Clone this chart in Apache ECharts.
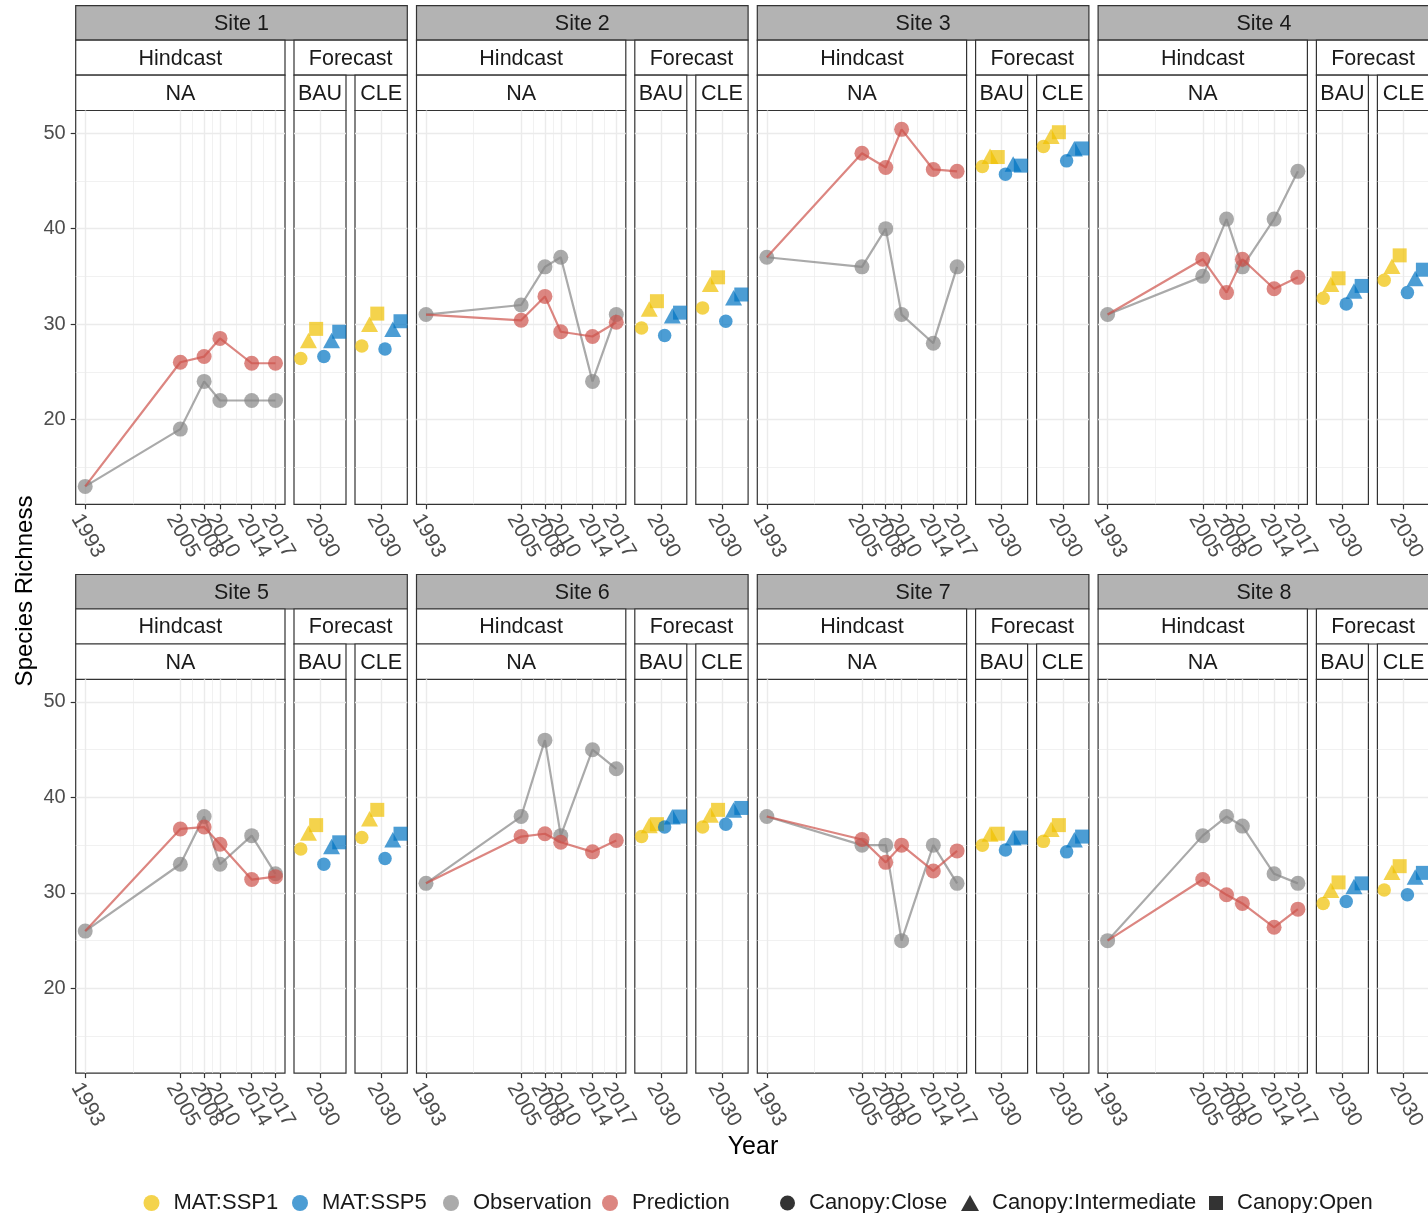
<!DOCTYPE html>
<html><head><meta charset="utf-8">
<script src="https://cdn.jsdelivr.net/npm/echarts@6/dist/echarts.min.js"></script>
<style>html,body{margin:0;padding:0;background:#fff}#c{width:1428px;height:1213px}</style>
</head><body><div id="c"></div>
<script>
// ---------------- data ----------------
const sites = ['Site 1','Site 2','Site 3','Site 4','Site 5','Site 6','Site 7','Site 8'];
const periods = ['Hindcast','Forecast'];
const scenarios = ['NA','BAU','CLE'];
const years = [1993, 2005, 2008, 2010, 2014, 2017];
const minorYears = [1999, 2006.5, 2009, 2012, 2015.5];
const forecastYear = 2030;
const yTicks = [20, 30, 40, 50];
const yMinor = [15, 25, 35, 45];
const colorGroups = ['MAT:SSP1', 'MAT:SSP5', 'Observation', 'Prediction'];
const canopy = ['Canopy:Close', 'Canopy:Intermediate', 'Canopy:Open'];

const observation = [
  [13, 19, 24, 22, 22, 22],
  [31, 32, 36, 37, 24, 31],
  [37, 36, 40, 31, 28, 36],
  [31, 35, 41, 36, 41, 46],
  [26, 33, 38, 33, 36, 32],
  [31, 38, 46, 36, 45, 43],
  [38, 35, 35, 25, 35, 31],
  [25, 36, 38, 37, 32, 31]
];
const prediction = [
  [13, 26.0, 26.6, 28.5, 25.9, 25.9],
  [31, 30.4, 32.9, 29.2, 28.7, 30.2],
  [37, 47.9, 46.4, 50.4, 46.2, 46.0],
  [31, 36.8, 33.3, 36.8, 33.7, 34.9],
  [26, 36.7, 36.9, 35.1, 31.4, 31.7],
  [31, 35.9, 36.2, 35.3, 34.3, 35.5],
  [38, 35.6, 33.2, 35.0, 32.3, 34.4],
  [25, 31.4, 29.8, 28.9, 26.4, 28.3]
];
// forecast values per site: [Close, Intermediate, Open]
const bauSSP1 = [[26.4,28.0,29.5],[29.6,31.3,32.4],[46.5,47.3,47.5],[32.7,33.9,34.8],[34.6,36.0,37.1],[35.9,36.8,37.2],[35.0,35.9,36.2],[28.9,30.0,31.1]];
const bauSSP5 = [[26.6,28.0,29.2],[28.8,30.6,31.2],[45.7,46.5,46.6],[32.1,33.2,34.0],[33.0,34.6,35.3],[36.9,37.7,38.0],[34.5,35.5,35.8],[29.1,30.4,31.0]];
const cleSSP1 = [[27.7,29.7,31.1],[31.7,33.9,34.9],[48.6,49.4,50.1],[34.6,35.8,37.2],[35.8,37.5,38.7],[36.9,37.9,38.7],[35.4,36.4,37.1],[30.3,31.9,32.8]];
const cleSSP5 = [[27.4,29.2,30.3],[30.3,32.5,33.1],[47.1,48.1,48.4],[33.3,34.5,35.7],[33.6,35.3,36.2],[37.2,38.4,38.9],[34.3,35.3,35.9],[29.8,31.4,32.1]];

// ---------------- style / layout ----------------
const FONT = '"Liberation Sans", Arial, Helvetica, sans-serif';
const COLORS = {'MAT:SSP1':'#EFC000','MAT:SSP5':'#0073C2','Observation':'#868686','Prediction':'#CD534C'};
const ALPHA = 0.7;
const SHAPES = ['circle','triangle','rect'];
const SHAPE_SIZE = [13.5, [17, 15.5], 14];
const SHAPE_OFFSET = [[0,0],[0,-2.6],[0,0]];
const YMIN = 11.125, YMAX = 52.375;
const HX = [1991.8, 2018.2];
const FX = [2029.5, 2030.5];
const DODGE = 0.148;
const PX0 = 75.7, COLW = 340.8, PY0 = 110.5, ROWH = 568.8, PH = 393.8;
const PANEL_X = [0, 218.3, 279.3], PANEL_W = [209.3, 52, 52.3];

const grid = [], xAxis = [], yAxis = [], series = [], graphic = [];

function strip(x, y, w, h, text, fill) {
  graphic.push({type:'rect', silent:true, shape:{x:x, y:y, width:w, height:h},
    style:{fill:fill, stroke:'#333333', lineWidth:1.2}});
  graphic.push({type:'text', silent:true, x:x + w/2, y:y + h/2 + 1,
    style:{text:text, fill:'#1A1A1A', fontSize:21.5, fontFamily:FONT,
      textAlign:'center', textVerticalAlign:'middle', align:'center', verticalAlign:'middle'}});
}

const tickStyle = {color:'#333333', width:1.2};
const labelBase = {fontSize:20, color:'#4D4D4D', fontFamily:FONT};
// an empty label at the axis end keeps the real last label from being auto-hidden
const xLabelBase = {rotate: -60, margin: 6, align: 'left', verticalAlign: 'top', hideOverlap: false,
  formatter: v => (v > HX[1] - 0.5 ? '' : String(v))};
const xLabelFont = {fontSize: 21, color: '#4D4D4D', fontFamily: FONT};

sites.forEach((site, s) => {
  const r = Math.floor(s / 4), c = s % 4;
  const bx = PX0 + c * COLW, by = PY0 + r * ROWH;
  // strips
  strip(bx, by - 104.8, 331.6, 34.5, site, '#B3B3B3');
  strip(bx, by - 70.3, PANEL_W[0], 35, periods[0], '#FFFFFF');
  strip(bx + PANEL_X[1], by - 70.3, 331.6 - PANEL_X[1], 35, periods[1], '#FFFFFF');
  for (let p = 0; p < 3; p++) strip(bx + PANEL_X[p], by - 35.3, PANEL_W[p], 35.3, scenarios[p], '#FFFFFF');

  for (let p = 0; p < 3; p++) {
    const gi = grid.length;
    grid.push({left: bx + PANEL_X[p], top: by, width: PANEL_W[p], height: PH,
      show: true, borderColor: '#333333', borderWidth: 1.2, backgroundColor: 'transparent',
      containLabel: false, outerBoundsMode: 'none'});
    const isLeft = (c === 0 && p === 0);
    const yMaj = yAxis.length;
    yAxis.push({gridIndex: gi, type: 'value', min: YMIN, max: YMAX, position: 'left',
      axisLine: {show: false},
      axisTick: {show: isLeft, customValues: yTicks, length: 5, lineStyle: tickStyle},
      axisLabel: Object.assign({show: isLeft, customValues: yTicks, margin: 10, formatter: v => String(v)}, labelBase),
      splitLine: {show: true, lineStyle: {color: '#EBEBEB', width: 1.4}}});
    yAxis.push({gridIndex: gi, type: 'value', min: YMIN, max: YMAX, position: 'right',
      axisLine: {show: false},
      axisTick: {show: false, customValues: yMinor},
      axisLabel: {show: false, customValues: yMinor},
      splitLine: {show: true, lineStyle: {color: '#EBEBEB', width: 0.7}}});
    const xMaj = xAxis.length;
    if (p === 0) {
      xAxis.push({gridIndex: gi, type: 'value', min: HX[0], max: HX[1], position: 'bottom',
        axisLine: {show: false},
        axisTick: {show: true, customValues: years, length: 5, lineStyle: tickStyle},
        axisLabel: Object.assign({show: true, customValues: years.concat([HX[1]])}, xLabelBase, xLabelFont),
        splitLine: {show: true, lineStyle: {color: '#EBEBEB', width: 1.4}}});
      xAxis.push({gridIndex: gi, type: 'value', min: HX[0], max: HX[1], position: 'top',
        axisLine: {show: false},
        axisTick: {show: false, customValues: minorYears},
        axisLabel: {show: false, customValues: minorYears},
        splitLine: {show: true, lineStyle: {color: '#EBEBEB', width: 0.7}}});
      series.push({type: 'line', name: 'Observation', xAxisIndex: xMaj, yAxisIndex: yMaj,
        data: years.map((yr, i) => [yr, observation[s][i]]),
        symbol: 'circle', symbolSize: 15, z: 2,
        itemStyle: {color: COLORS['Observation'], opacity: ALPHA},
        lineStyle: {color: COLORS['Observation'], width: 2.2, opacity: ALPHA}});
      series.push({type: 'line', name: 'Prediction', xAxisIndex: xMaj, yAxisIndex: yMaj,
        data: years.map((yr, i) => i === 0 ? {value: [yr, prediction[s][i]], symbol: 'none'} : [yr, prediction[s][i]]),
        symbol: 'circle', symbolSize: 15, z: 3,
        itemStyle: {color: COLORS['Prediction'], opacity: ALPHA},
        lineStyle: {color: COLORS['Prediction'], width: 2.2, opacity: ALPHA}});
    } else {
      xAxis.push({gridIndex: gi, type: 'value', min: FX[0], max: FX[1], position: 'bottom',
        axisLine: {show: false},
        axisTick: {show: true, customValues: [forecastYear], length: 5, lineStyle: tickStyle},
        axisLabel: Object.assign({show: true, customValues: [forecastYear]}, xLabelBase, xLabelFont,
          {formatter: v => String(v)}),
        splitLine: {show: true, lineStyle: {color: '#EBEBEB', width: 1.4}}});
      const sets = p === 1 ? [bauSSP1, bauSSP5] : [cleSSP1, cleSSP5];
      ['MAT:SSP1', 'MAT:SSP5'].forEach((name, ci) => {
        series.push({type: 'scatter', name: name, xAxisIndex: xMaj, yAxisIndex: yMaj, z: 3,
          data: canopy.map((cn, k) => ({
            value: [forecastYear + (ci * 3 + k - 2.5) * DODGE, sets[ci][s][k]],
            symbol: SHAPES[k], symbolSize: SHAPE_SIZE[k], symbolOffset: SHAPE_OFFSET[k]})),
          itemStyle: {color: COLORS[name], opacity: ALPHA}});
      });
    }
  }
});

// dummy series for shape legend
canopy.forEach((cn, k) => series.push({type: 'scatter', name: cn, xAxisIndex: 0, yAxisIndex: 0, data: [],
  symbol: SHAPES[k], itemStyle: {color: '#000000'}}));

series.forEach(se => { se.silent = true; se.emphasis = {disabled: true}; se.animation = false; });

// axis titles
graphic.push({type: 'text', silent: true, x: 25, y: 591, rotation: Math.PI / 2,
  style: {text: 'Species Richness', fill: '#000', fontSize: 24, fontFamily: FONT,
    textAlign: 'center', textVerticalAlign: 'middle', align: 'center', verticalAlign: 'middle'}});
graphic.push({type: 'text', silent: true, x: 753, y: 1147,
  style: {text: 'Year', fill: '#000', fontSize: 25, fontFamily: FONT,
    textAlign: 'center', textVerticalAlign: 'middle', align: 'center', verticalAlign: 'middle'}});

// legends (one per item for exact placement)
const legendItems = [
  {name: colorGroups[0], icon: 'circle', cx: 151.5, w: 16, h: 16, pad: 9},
  {name: colorGroups[1], icon: 'circle', cx: 300, w: 16, h: 16, pad: 9},
  {name: colorGroups[2], icon: 'circle', cx: 451, w: 16, h: 16, pad: 9},
  {name: colorGroups[3], icon: 'circle', cx: 610, w: 16, h: 16, pad: 9},
  {name: canopy[0], icon: 'circle', cx: 787.5, w: 15, h: 15, pad: 9},
  {name: canopy[1], icon: 'triangle', cx: 970, w: 18, h: 16, pad: 8},
  {name: canopy[2], icon: 'rect', cx: 1216, w: 14, h: 14, pad: 9}
];
const legend = legendItems.map(it => ({
  show: true, selectedMode: false, orient: 'horizontal', padding: 0,
  left: it.cx - it.w / 2, top: 1200 - 8, itemWidth: it.w, itemHeight: it.h,
  textStyle: {fontSize: 22, color: '#1A1A1A', fontFamily: FONT, padding: [0, 0, 0, it.pad]},
  data: [{name: it.name, icon: it.icon}]
}));

const chart = echarts.init(document.getElementById('c'), null, {renderer: 'canvas', width: 1428, height: 1213});
chart.setOption({
  animation: false,
  backgroundColor: '#FFFFFF',
  textStyle: {fontFamily: FONT},
  grid: grid, xAxis: xAxis, yAxis: yAxis, series: series,
  legend: legend, graphic: {elements: graphic}
});
</script>
</body></html>
